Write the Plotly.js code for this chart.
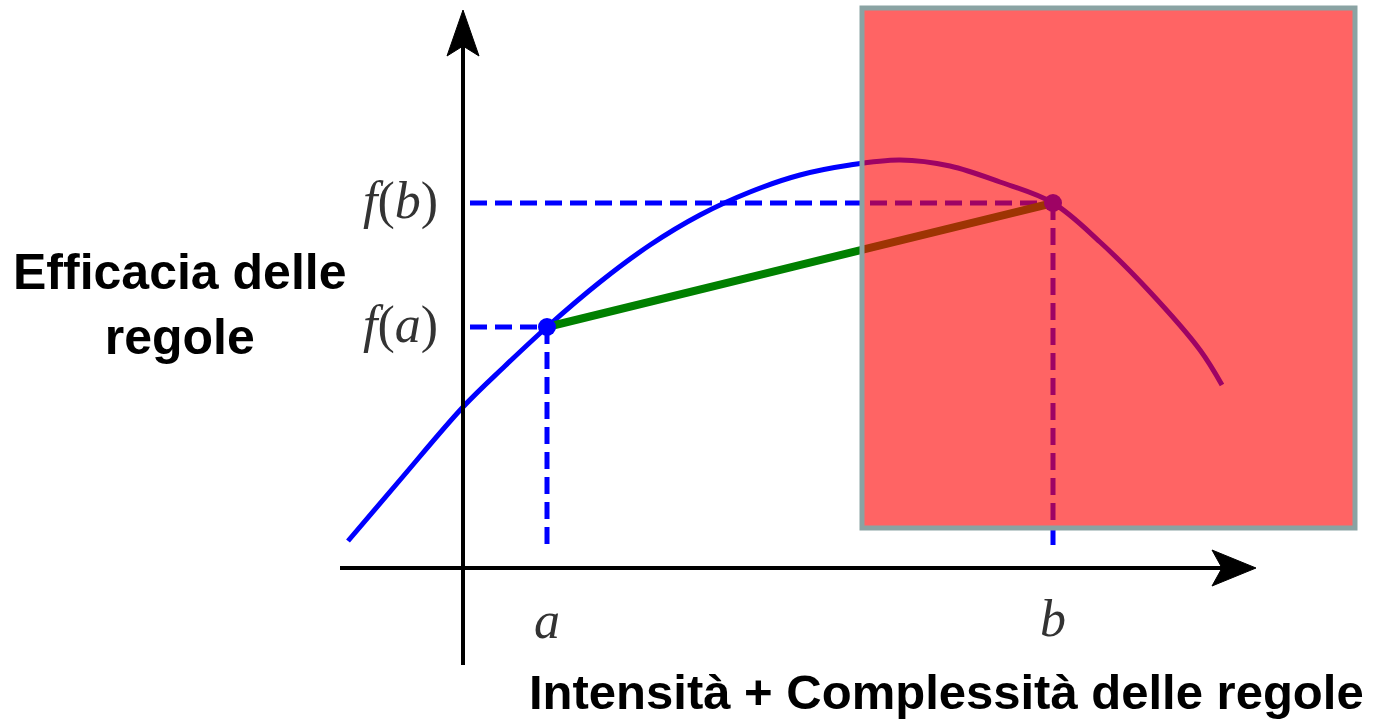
<!DOCTYPE html>
<html>
<head>
<meta charset="utf-8">
<script src="https://cdn.plot.ly/plotly-3.0.1.min.js"></script>
<style>
  body { margin: 0; background: white; }
  #chart { width: 1391px; height: 723px; }
</style>
</head>
<body>
<div id="chart"></div>
<script>
// curva (origine = incrocio degli assi, 1 unità = 1 px)
const curveX = [-115, -63, 0, 42, 84, 137, 187, 237, 287, 337, 387, 437, 487, 537, 590, 637, 687, 737, 759];
const curveY = [27, 88, 161, 202, 241, 286, 323, 353, 376, 393, 403, 408, 402, 386, 365, 326, 276, 218, 183];

// punti a e b
const ptX = [84, 590];
const ptY = [241, 365];

// estensione degli assi
const xAxisEnd = [-123, 793];
const yAxisEnd = [-97, 558];

// riquadro rosso
const boxX = [399, 892];
const boxY = [40, 560];

const data = [];
const dashStyle = { color: '#0000ff', width: 5, dash: '17px,8px' };

// tratteggi orizzontali f(a), f(b)
ptY.forEach((y, i) => {
    data.push({
        x: [7, ptX[i]], y: [y, y],
        mode: 'lines', line: dashStyle, hoverinfo: 'none'
    });
});
// tratteggi verticali a, b
ptX.forEach((x, i) => {
    data.push({
        x: [x, x], y: [ptY[i], 22],
        mode: 'lines', line: dashStyle, hoverinfo: 'none'
    });
});

// curva blu
data.push({
    x: curveX, y: curveY,
    mode: 'lines',
    line: { color: '#0000ff', width: 5, shape: 'spline', smoothing: 1 },
    hoverinfo: 'none'
});

// secante verde
data.push({
    x: ptX, y: ptY,
    mode: 'lines',
    line: { color: '#008000', width: 8 },
    hoverinfo: 'none'
});

// punti
data.push({
    x: ptX, y: ptY,
    mode: 'markers',
    marker: { color: '#0000ff', size: 18 },
    hoverinfo: 'none'
});

// assi con frecce
const shapes = [
    { type: 'line', x0: xAxisEnd[0], x1: xAxisEnd[1] - 30, y0: 0, y1: 0, line: { color: 'black', width: 4 } },
    { type: 'line', x0: 0, x1: 0, y0: yAxisEnd[0], y1: yAxisEnd[1] - 30, line: { color: 'black', width: 4 } },
    {
        type: 'path',
        path: `M ${xAxisEnd[1]} 0 L ${xAxisEnd[1] - 44} 18 L ${xAxisEnd[1] - 34} 0 L ${xAxisEnd[1] - 44} -18 Z`,
        fillcolor: 'black', line: { color: 'black', width: 1 }
    },
    {
        type: 'path',
        path: `M 0 ${yAxisEnd[1]} L 16 ${yAxisEnd[1] - 46} L 0 ${yAxisEnd[1] - 36} L -16 ${yAxisEnd[1] - 46} Z`,
        fillcolor: 'black', line: { color: 'black', width: 1 }
    },
    {
        type: 'rect', layer: 'above',
        x0: boxX[0], x1: boxX[1], y0: boxY[0], y1: boxY[1],
        fillcolor: '#ff0505', opacity: 0.62, line: { width: 0 }
    },
    {
        type: 'rect', layer: 'above',
        x0: boxX[0], x1: boxX[1], y0: boxY[0], y1: boxY[1],
        fillcolor: 'rgba(0,0,0,0)', line: { color: '#8aa3a3', width: 5 }
    }
];

const serif = { family: 'Liberation Serif', size: 52, color: '#333' };
const bold = { family: 'Liberation Sans', size: 50, color: 'black' };

const annotations = [
    { x: -63, y: ptY[1] + 2, text: '<i>f</i>(<i>b</i>)', font: serif },
    { x: -63, y: ptY[0] + 2, text: '<i>f</i>(<i>a</i>)', font: serif },
    { x: ptX[0], y: -52, text: '<i>a</i>', font: serif },
    { x: ptX[1], y: -50, text: '<i>b</i>', font: serif },
    { x: -283, y: 264, text: '<b>Efficacia delle<br>regole</b>', font: bold },
    { x: 483, y: -124, text: '<b>Intensità + Complessità delle regole</b>', font: { family: 'Liberation Sans', size: 49, color: 'black' }, borderpad: 0 }
].map(a => Object.assign({ xref: 'x', yref: 'y', showarrow: false, xanchor: 'center', yanchor: 'middle' }, a));

const layout = {
    width: 1391, height: 723,
    margin: { l: 0, r: 0, t: 0, b: 0 },
    paper_bgcolor: 'white', plot_bgcolor: 'white',
    showlegend: false,
    xaxis: { range: [-463, 928], visible: false, fixedrange: true },
    yaxis: { range: [-155, 568], visible: false, fixedrange: true },
    shapes: shapes,
    annotations: annotations
};

Plotly.newPlot('chart', data, layout, { displayModeBar: false, staticPlot: true });
</script>
</body>
</html>
